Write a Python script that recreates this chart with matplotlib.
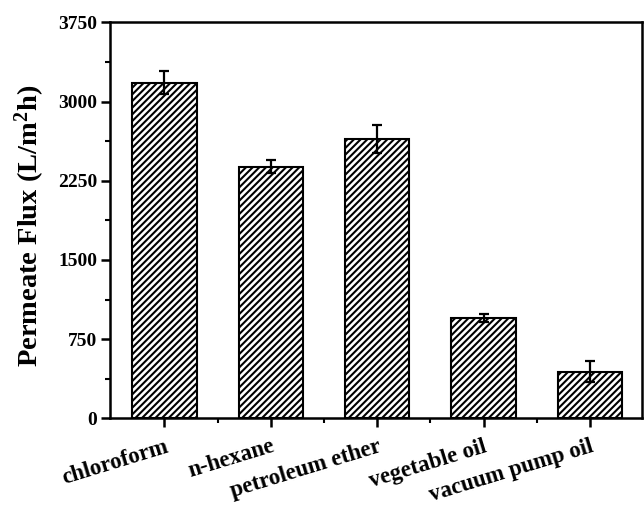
import matplotlib
matplotlib.use("Agg")
import matplotlib.pyplot as plt
import matplotlib.transforms as mtransforms
from matplotlib.ticker import MultipleLocator, FixedLocator

categories = ["chloroform", "n-hexane", "petroleum ether", "vegetable oil", "vacuum pump oil"]
flux = [3180, 2384, 2646, 950, 441]
errors = [106, 60, 129, 41, 100]
yticks = [0, 750, 1500, 2250, 3000, 3750]

plt.rcParams['font.family'] = ['Liberation Serif', 'DejaVu Serif']
plt.rcParams['font.weight'] = 'bold'
plt.rcParams['mathtext.fontset'] = 'custom'
plt.rcParams['mathtext.rm'] = 'Liberation Serif:bold'
plt.rcParams['mathtext.bf'] = 'Liberation Serif:bold'
plt.rcParams['mathtext.it'] = 'Liberation Serif:bold'
plt.rcParams['hatch.linewidth'] = 1.5

fig = plt.figure(figsize=(6.44, 5.07), dpi=100)
ax = fig.add_axes([0.1708, 0.1750, 0.8261, 0.7807])

x = list(range(1, len(categories) + 1))
ax.bar(x, flux, width=0.605, color='white', edgecolor='black', linewidth=1.5,
       hatch='/////', zorder=2)
ax.errorbar(x, flux, yerr=errors, fmt='none', ecolor='black', elinewidth=1.6,
            capsize=3.4, capthick=1.6, zorder=3)

ax.set_xlim(0.488, 5.489)
ax.set_ylim(0, 3750)
ax.set_yticks(yticks)
ax.yaxis.set_minor_locator(MultipleLocator(375))
ax.set_xticks(x)
ax.xaxis.set_minor_locator(FixedLocator([1.5, 2.5, 3.5, 4.5]))
ax.set_xticklabels(categories, rotation=17, ha='right', va='top', rotation_mode='anchor',
                   fontsize=16.5, fontweight='bold')
offset = mtransforms.ScaledTranslation(0.05, 0, fig.dpi_scale_trans)
for lab in ax.get_xticklabels():
    lab.set_transform(lab.get_transform() + offset)
for lab in ax.get_yticklabels():
    lab.set_fontsize(14)
    lab.set_fontweight('bold')

ax.tick_params(axis='both', which='major', direction='out', length=6.3, width=1.8)
ax.tick_params(axis='both', which='minor', direction='out', length=3.5, width=1.5)
ax.tick_params(axis='x', which='major', pad=6.5)
ax.tick_params(axis='y', which='major', pad=2.7)
for s in ax.spines.values():
    s.set_linewidth(1.8)

ax.set_ylabel("Permeate Flux (L/m$^{\\mathbf{2}}$h)", fontsize=20.5, fontweight='bold')
ax.yaxis.set_label_coords(-0.118, 0.485)

fig.savefig("out.png", dpi=100)
